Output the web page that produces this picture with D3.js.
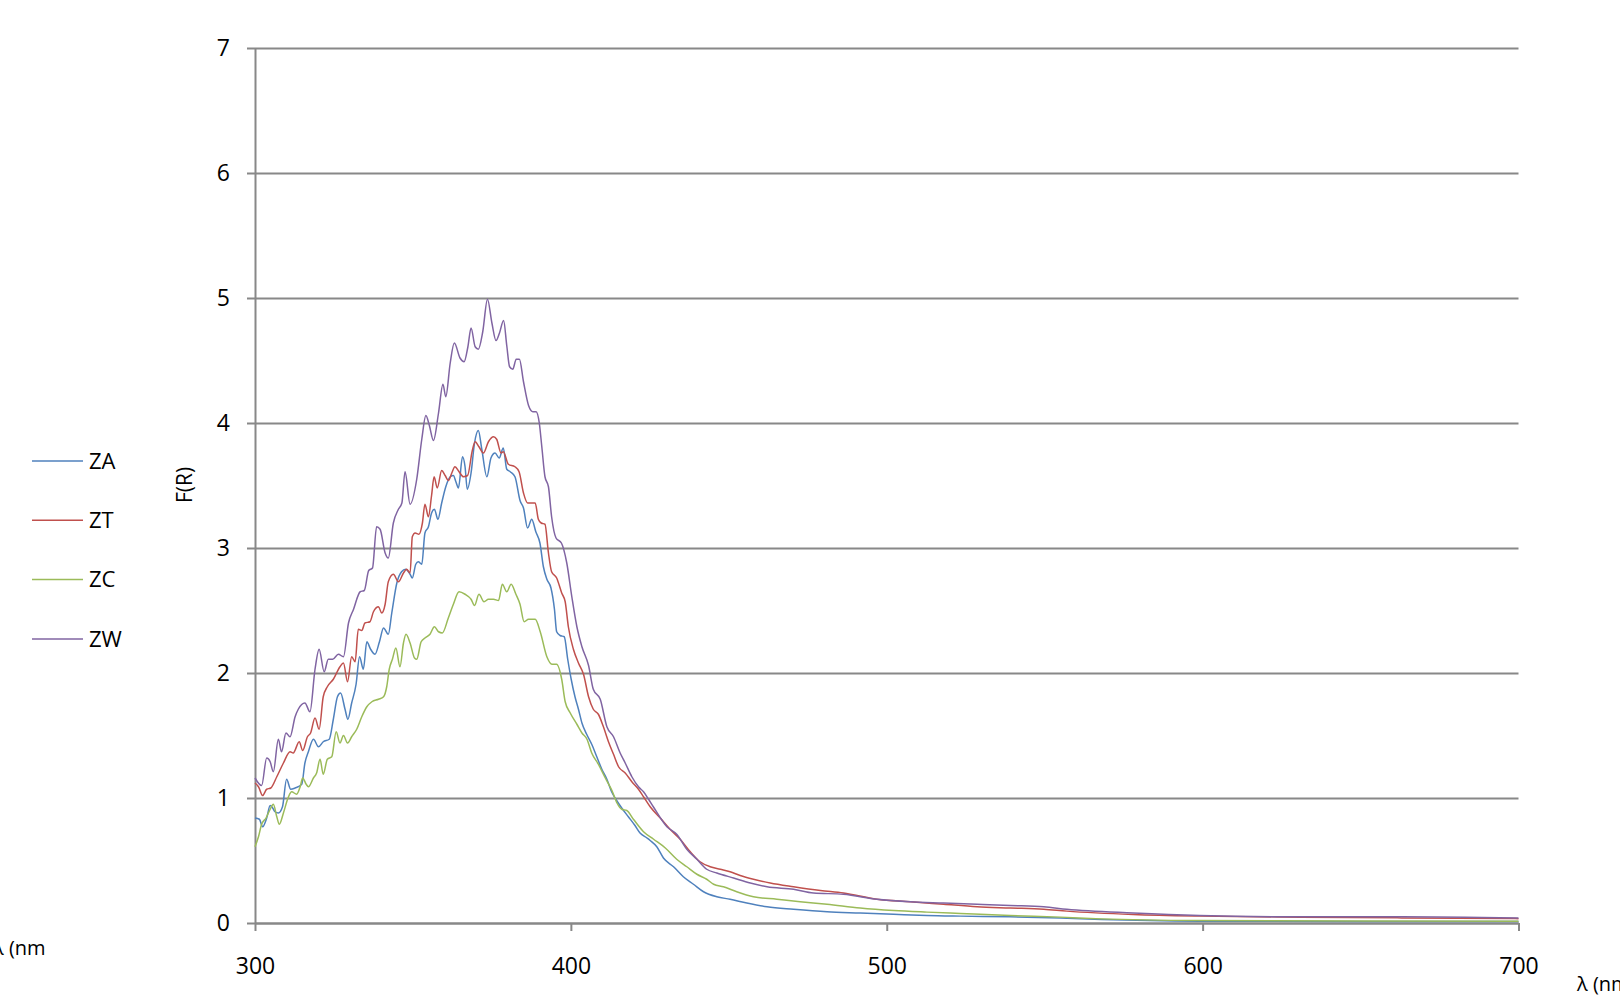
<!DOCTYPE html>
<html>
<head>
<meta charset="utf-8">
<script src="https://cdn.jsdelivr.net/npm/d3@7"></script>
<style>
  html, body { margin: 0; padding: 0; background: #fff; }
  svg { display: block; font-family: "Open Sans", sans-serif; }
</style>
</head>
<body>
<svg id="chart" width="1620" height="998"></svg>
<script>
// series names and colours (Excel 2007 palette)
const seriesNames = ["ZA", "ZT", "ZC", "ZW"];
const seriesColors = ["#4F81BD", "#C0504D", "#9BBB59", "#8064A2"];

const xTicks = [300, 400, 500, 600, 700];
const yTicks = [0, 1, 2, 3, 4, 5, 6, 7];

// [wavelength nm, F(R)]
const zaData = [
  [300,0.84],[301.4,0.83],[302.4,0.77],[303.7,0.84],[304.8,0.94],[305.6,0.92],[306.3,0.89],[307.4,0.88],
  [308.7,0.93],[310,1.15],[311.3,1.07],[312.7,1.08],[314.8,1.11],[315.8,1.28],[316.9,1.37],[318.5,1.47],
  [320.1,1.41],[321.6,1.45],[323.5,1.47],[324.8,1.63],[326.1,1.81],[327.1,1.84],[328.5,1.71],[329.4,1.63],
  [330.6,1.76],[332,1.91],[333.1,2.13],[334.3,2.03],[335.4,2.25],[336.6,2.19],[338,2.15],[339.4,2.25],
  [340.7,2.36],[342.2,2.31],[343.3,2.48],[344.9,2.72],[346.4,2.81],[347.7,2.83],[349.1,2.79],[349.8,2.76],
  [350.9,2.87],[351.7,2.89],[352.8,2.87],[353.8,3.12],[354.9,3.17],[355.9,3.28],[356.8,3.31],[357.9,3.23],
  [359.1,3.36],[360.4,3.49],[361.8,3.57],[362.8,3.58],[363.6,3.53],[364.4,3.48],[365.7,3.73],[366.5,3.65],
  [367.2,3.47],[368.4,3.6],[369.5,3.84],[370.7,3.94],[371.8,3.79],[373.4,3.57],[374.7,3.72],[376,3.76],
  [377.3,3.72],[378.6,3.8],[379.7,3.63],[380.8,3.61],[382.3,3.57],[383.9,3.38],[385,3.32],[386.3,3.16],
  [387.6,3.23],[388.9,3.13],[390.2,3.04],[391.3,2.85],[392.4,2.75],[393.7,2.68],[394.8,2.51],[395.5,2.33],
  [396.6,2.3],[397.9,2.29],[399,2.11],[400.1,1.95],[401.3,1.81],[402.4,1.71],[403.5,1.6],[405,1.51],
  [406.6,1.43],[408.2,1.33],[409.8,1.23],[411.4,1.15],[412.9,1.05],[414.5,0.98],[416.1,0.92],[418.2,0.85],
  [420.3,0.78],[421.9,0.72],[424.1,0.68],[425.1,0.66],[427.2,0.61],[429.3,0.52],[432.5,0.45],[435.6,0.37],
  [438.8,0.31],[442,0.25],[446.2,0.21],[450.4,0.19],[455.7,0.16],[462.1,0.13],[470.5,0.11],[481.1,0.09],
  [491.6,0.08],[502.2,0.07],[512.7,0.06],[523.3,0.055],[539.1,0.05],[555,0.04],[568,0.028],[599,0.015],
  [650,0.012],[700,0.012]
];

const ztData = [
  [300,1.12],[301.1,1.09],[302.4,1.02],[303.7,1.07],[305,1.08],[306.9,1.17],[309,1.28],[311.1,1.37],
  [312.1,1.36],[314,1.45],[315.1,1.38],[316.6,1.49],[317.6,1.52],[319,1.64],[320.3,1.55],[321.6,1.81],
  [322.9,1.89],[324.8,1.95],[326.9,2.05],[328,2.08],[329.3,1.93],[330.6,2.13],[331.7,2.09],[332.7,2.35],
  [333.8,2.34],[334.8,2.4],[336.4,2.41],[337.5,2.49],[339.1,2.53],[340.1,2.48],[341.2,2.55],[342.2,2.73],
  [343.8,2.79],[345.4,2.73],[347,2.8],[348,2.83],[349.1,2.8],[349.8,3.09],[350.7,3.12],[351.9,3.11],
  [353,3.2],[353.8,3.35],[354.9,3.25],[355.9,3.42],[356.7,3.57],[357.7,3.48],[359.1,3.62],[360.2,3.58],
  [361.2,3.54],[362.3,3.6],[363.3,3.65],[364.6,3.61],[366,3.57],[367.3,3.58],[368.8,3.78],[369.7,3.85],
  [370.9,3.81],[372.3,3.76],[373.9,3.85],[375.5,3.89],[376.5,3.87],[377.9,3.76],[378.6,3.77],[380.2,3.67],
  [382.3,3.65],[383.6,3.61],[385,3.44],[386.3,3.36],[388.7,3.36],[389.7,3.23],[390.6,3.2],[391.8,3.19],
  [392.9,2.96],[393.9,2.81],[395.5,2.76],[397.1,2.64],[398.2,2.57],[399.2,2.37],[400.8,2.19],[402.4,2.08],
  [404,1.99],[405.6,1.81],[407.1,1.71],[408.7,1.67],[410.3,1.57],[411.9,1.45],[413.5,1.35],[415.1,1.25],
  [417.2,1.2],[419.3,1.13],[421.4,1.07],[423,1.01],[425.1,0.93],[428.3,0.84],[431.4,0.75],[434.6,0.67],
  [437.8,0.57],[440.9,0.49],[444.1,0.45],[447.3,0.43],[450.4,0.41],[453.6,0.38],[457.8,0.35],[463.1,0.32],
  [470.5,0.29],[479,0.26],[486.3,0.24],[496.9,0.19],[507.5,0.17],[518,0.15],[528.6,0.13],[539.1,0.12],
  [549.7,0.11],[557,0.095],[578,0.068],[599,0.055],[631,0.047],[663,0.041],[700,0.035]
];

const zcData = [
  [300,0.61],[301.1,0.69],[302.1,0.79],[303.5,0.84],[304.8,0.91],[305.8,0.95],[306.9,0.85],[307.7,0.79],
  [309,0.88],[310.6,1.01],[311.6,1.05],[313.2,1.03],[314.3,1.09],[315.1,1.16],[316.2,1.11],[316.9,1.09],
  [318.5,1.16],[319.5,1.2],[320.6,1.31],[321.6,1.19],[322.9,1.31],[324.3,1.33],[325.7,1.53],[326.9,1.44],
  [328,1.5],[329.3,1.44],[330.6,1.49],[332.2,1.55],[333.8,1.65],[335.4,1.73],[337,1.77],[339.1,1.79],
  [340.7,1.81],[341.7,1.89],[342.5,2.03],[343.5,2.11],[344.6,2.2],[345.9,2.05],[347,2.24],[347.8,2.31],
  [349.1,2.24],[350.5,2.12],[351.2,2.11],[352.6,2.25],[353.8,2.28],[355.4,2.31],[356.8,2.37],[358.1,2.33],
  [359.3,2.32],[361.2,2.44],[362.8,2.55],[364.6,2.65],[366.5,2.63],[368.4,2.59],[369.5,2.54],[370.9,2.63],
  [372.5,2.57],[373.9,2.59],[375.5,2.59],[377.1,2.58],[378.3,2.71],[379.7,2.65],[381.1,2.71],[382.6,2.63],
  [383.9,2.55],[385.2,2.41],[386.6,2.43],[388.7,2.43],[390.3,2.33],[392.4,2.13],[394,2.07],[395.5,2.07],
  [397.1,1.95],[398.2,1.77],[399.8,1.68],[401.9,1.59],[403.5,1.52],[405.1,1.47],[406.6,1.36],[408.7,1.27],
  [410.9,1.16],[413,1.06],[414.6,0.96],[416.1,0.91],[417.7,0.9],[419.8,0.83],[423,0.73],[426.2,0.67],
  [429.9,0.6],[433.5,0.51],[436.7,0.45],[439.9,0.39],[443,0.35],[445.2,0.31],[448.3,0.29],[452.5,0.25],
  [457.8,0.21],[465.2,0.19],[472.6,0.17],[481.1,0.15],[491.6,0.12],[502.2,0.1],[512.7,0.087],[523.3,0.076],
  [539.1,0.06],[555,0.047],[568,0.033],[599,0.02],[650,0.016],[700,0.015]
];

const zwData = [
  [300,1.16],[302.1,1.1],[303.7,1.32],[304.8,1.29],[305.8,1.21],[307.4,1.47],[308.4,1.37],[309.8,1.52],
  [311.1,1.49],[312.7,1.65],[313.7,1.71],[315.8,1.76],[317.4,1.69],[319,2.03],[320.3,2.19],[321.9,2.01],
  [323.2,2.11],[324.6,2.11],[326.4,2.15],[328,2.13],[329.6,2.4],[331.2,2.51],[333.3,2.65],[334.6,2.66],
  [336,2.82],[337.2,2.84],[338.5,3.17],[339.6,3.15],[341.2,2.96],[342.2,2.92],[343.8,3.2],[345.4,3.31],
  [346.5,3.36],[347.5,3.61],[349.1,3.35],[351.2,3.55],[352.8,3.87],[354.1,4.06],[355.2,3.98],[356.5,3.86],
  [358.1,4.08],[359.5,4.31],[360.4,4.21],[361.8,4.48],[363.1,4.64],[364.9,4.52],[366.2,4.49],[367.4,4.61],
  [368.4,4.76],[369.7,4.61],[370.7,4.59],[372.1,4.73],[373.6,4.99],[375,4.8],[376.3,4.66],[377.4,4.72],
  [378.7,4.82],[379.7,4.62],[380.6,4.45],[381.6,4.43],[382.7,4.51],[383.7,4.51],[385,4.33],[386.6,4.14],
  [388,4.09],[389,4.09],[390,4],[390.8,3.81],[391.8,3.57],[392.9,3.49],[393.9,3.25],[395.3,3.08],
  [397,3.04],[398.7,2.88],[400.3,2.61],[401.9,2.37],[403.5,2.21],[405.6,2.06],[407.1,1.87],[409.3,1.79],
  [411.4,1.57],[413.5,1.49],[415.6,1.36],[417.2,1.28],[419.3,1.17],[421.4,1.09],[423,1.05],[424.6,0.99],
  [426.1,0.93],[430.4,0.77],[433.5,0.71],[436.7,0.59],[439.9,0.51],[443,0.43],[446.2,0.4],[451.5,0.36],
  [456.8,0.32],[462.1,0.29],[470.5,0.27],[476.8,0.24],[486.3,0.23],[496.9,0.19],[507.5,0.17],[518,0.16],
  [528.6,0.15],[539.1,0.14],[549.7,0.13],[557,0.11],[578,0.08],[599,0.06],[631,0.05],[663,0.05],[700,0.04]
];

const allSeries = [zaData, ztData, zcData, zwData];

const svg = d3.select("#chart");
const plot = { left: 255, right: 1518.5, top: 48, bottom: 923 };
const gridColor = "#888888";

const x = d3.scaleLinear().domain([300, 700]).range([plot.left, plot.right]);
const y = d3.scaleLinear().domain([0, 7]).range([plot.bottom, plot.top]);

// y axis with gridlines
const yAxis = svg.append("g")
    .attr("transform", `translate(${plot.left},0)`)
    .call(d3.axisLeft(y).tickValues(yTicks).tickFormat(d3.format("d"))
        .tickSize(8).tickPadding(17).tickSizeOuter(0));
yAxis.select(".domain").attr("stroke", gridColor).attr("stroke-width", 2);
yAxis.selectAll(".tick line")
    .attr("x1", plot.right - plot.left)
    .attr("stroke", gridColor)
    .attr("stroke-width", 2);
yAxis.selectAll(".tick text")
    .attr("font-size", 23)
    .attr("font-family", "Open Sans")
    .attr("fill", "#000");

// x axis
const xAxis = svg.append("g")
    .attr("transform", `translate(0,${plot.bottom})`)
    .call(d3.axisBottom(x).tickValues(xTicks).tickSize(8).tickPadding(27).tickSizeOuter(0));
xAxis.select(".domain").attr("stroke", gridColor).attr("stroke-width", 2);
xAxis.selectAll(".tick line").attr("stroke", gridColor).attr("stroke-width", 2);
xAxis.selectAll(".tick text")
    .attr("font-size", 23)
    .attr("font-family", "Open Sans")
    .attr("fill", "#000");

// series lines
const line = d3.line()
    .x(d => x(d[0]))
    .y(d => y(d[1]))
    .curve(d3.curveMonotoneX);

svg.append("g")
    .selectAll("path")
    .data(allSeries)
    .join("path")
    .attr("fill", "none")
    .attr("stroke", (d, i) => seriesColors[i])
    .attr("stroke-width", 1.5)
    .attr("d", line);

// axis titles (the reference shows them clipped at the page edges)
svg.append("text")
    .attr("transform", "translate(185,485) rotate(-90)")
    .attr("text-anchor", "middle")
    .attr("dy", "0.35em")
    .attr("font-size", 21)
    .text("F(R)");

svg.append("text")
    .attr("x", 1577).attr("y", 991)
    .attr("font-size", 20)
    .text("λ (nm)");

svg.append("text")
    .attr("x", -7).attr("y", 955)
    .attr("font-size", 20)
    .text("λ (nm");

// legend
const legend = svg.append("g")
    .selectAll("g")
    .data(seriesNames)
    .join("g")
    .attr("transform", (d, i) => `translate(32,${461 + i * 59.3})`);

legend.append("line")
    .attr("x1", 0).attr("x2", 51)
    .attr("stroke", (d, i) => seriesColors[i])
    .attr("stroke-width", 1.5);

legend.append("text")
    .attr("x", 57)
    .attr("dy", "0.35em")
    .attr("font-size", 22)
    .text(d => d);
</script>
</body>
</html>
